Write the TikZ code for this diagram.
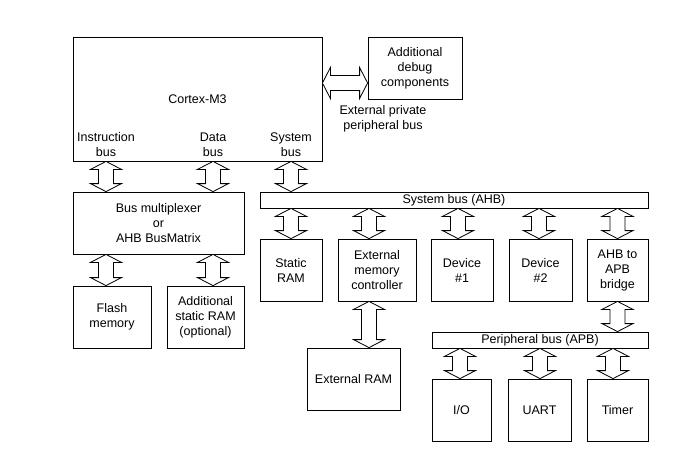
\documentclass[tikz,border=0pt]{standalone}
\usepackage{fontspec}
\setmainfont{Liberation Sans}
\usetikzlibrary{calc}

% block arrow with two heads, #1 upper end, #2 lower end
\newcommand{\busv}[2]{%
  \draw[busarrow] let \p1=#1, \p2=#2 in
    (\x1,\y1) -- (\x1+15.5pt,\y1-8pt) -- (\x1+7.5pt,\y1-8pt) -- (\x1+7.5pt,\y2+8pt)
    -- (\x1+15.5pt,\y2+8pt) -- (\x1,\y2) -- (\x1-15.5pt,\y2+8pt) -- (\x1-7.5pt,\y2+8pt)
    -- (\x1-7.5pt,\y1-8pt) -- (\x1-15.5pt,\y1-8pt) -- cycle;}
% same, lying: #1 left end, #2 right end
\newcommand{\bush}[2]{%
  \draw[busarrow] let \p1=#1, \p2=#2 in
    (\x1,\y1) -- (\x1+8pt,\y1+15.5pt) -- (\x1+8pt,\y1+7.5pt) -- (\x2-8pt,\y1+7.5pt)
    -- (\x2-8pt,\y1+15.5pt) -- (\x2,\y1) -- (\x2-8pt,\y1-15.5pt) -- (\x2-8pt,\y1-7.5pt)
    -- (\x1+8pt,\y1-7.5pt) -- (\x1+8pt,\y1-15.5pt) -- cycle;}

\begin{document}
\begin{tikzpicture}[x=1pt, y=-1pt, font=\fontsize{12.5}{15}\selectfont,
  box/.style={draw, line width=0.8pt, align=center, inner sep=0pt},
  busarrow/.style={draw, line width=0.8pt, fill=white, line join=miter}]

  \useasboundingbox (0,0) rectangle (685,450);

  \node[box, minimum width=249pt, minimum height=124pt] (cpu) at (197.5,99) {Cortex-M3};
  \node[box, minimum width=94pt, minimum height=62pt] (debug) at (415,68) {Additional\\debug\\components};
  \node[align=center, inner sep=0pt] (ppb) at (383,119) {External private\\peripheral bus};
  \coordinate (ppbus) at (345,83);

  \foreach \b/\x/\t in {ibus/106/Instruction, dbus/213/Data, sbus/291/System} {
    \node[align=center, inner sep=0pt] (\b) at (\x,144.5) {\t\\bus};
  }

  \node[box, minimum width=171pt, minimum height=62pt] (mux) at (158.5,223) {Bus multiplexer\\or\\AHB BusMatrix};
  \node[box, minimum width=78pt, minimum height=62pt] (flash) at (112,317) {Flash\\memory};
  \node[box, minimum width=77pt, minimum height=62pt] (xsram) at (205.5,317) {Additional\\static RAM\\(optional)};

  \node[box, minimum width=388pt, minimum height=16pt] (ahb) at (454,200) {System bus (AHB)};
  \node[box, minimum width=216pt, minimum height=16pt] (apb) at (540,340) {Peripheral bus (APB)};

  \foreach \b/\x/\w/\t in {sram/291/62/{Static\\RAM}, emc/377/78/{External\\memory\\controller},
      devA/462/62/{Device\\\#1}, devB/540.5/63/{Device\\\#2}, bridge/617.5/61/{AHB to\\APB\\bridge}} {
    \node[box, minimum width=\w pt, minimum height=62pt] (\b) at (\x,270) {\t};
  }
  \node[box, minimum width=93pt, minimum height=62pt] (xram) at (353.5,379) {External RAM};
  \foreach \b/\x/\w/\t in {io/461.5/59/{I/O}, uart/539.5/63/UART, timer/617.5/61/Timer} {
    \node[box, minimum width=\w pt, minimum height=62pt] (\b) at (\x,410) {\t};
  }

  % buses
  \bush{(cpu.east |- ppbus)}{(debug.west |- ppbus)}
  \busv{(ibus.south |- cpu.south)}{(ibus.south |- mux.north)}
  \busv{(dbus.south |- cpu.south)}{(dbus.south |- mux.north)}
  \busv{(sbus.south |- cpu.south)}{(sbus.south |- ahb.north)}
  \busv{(ibus.south |- mux.south)}{(ibus.south |- flash.north)}
  \busv{(dbus.south |- mux.south)}{(dbus.south |- xsram.north)}

  \foreach \b/\dx in {sram/0, emc/-8, devA/-4, devB/-1.5, bridge/0} {
    \busv{($(\b.north |- ahb.south)+(\dx,0)$)}{($(\b.north)+(\dx,0)$)}
  }
  \busv{($(emc.south)+(-8,0)$)}{($(emc.south |- xram.north)+(-8,0)$)}
  \busv{(bridge.south)}{(bridge.south |- apb.north)}
  \foreach \b/\dx in {io/-1.5, uart/0.5, timer/-4.5} {
    \busv{($(\b.north |- apb.south)+(\dx,0)$)}{($(\b.north)+(\dx,0)$)}
  }

\end{tikzpicture}
\end{document}
